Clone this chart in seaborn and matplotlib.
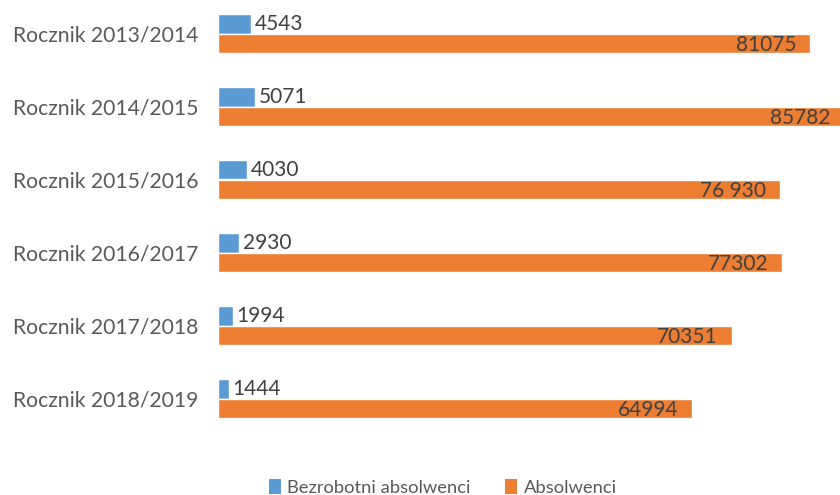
import matplotlib
matplotlib.use("Agg")
import matplotlib.pyplot as plt
import seaborn as sns
import pandas as pd
from matplotlib.patches import Patch

categories = ["Rocznik 2013/2014", "Rocznik 2014/2015", "Rocznik 2015/2016",
              "Rocznik 2016/2017", "Rocznik 2017/2018", "Rocznik 2018/2019"]
bezrobotni = [4543, 5071, 4030, 2930, 1994, 1444]
absolwenci = [81075, 85782, 76930, 77302, 70351, 64994]
bezrobotni_labels = ["4543", "5071", "4030", "2930", "1994", "1444"]
absolwenci_labels = ["81075", "85782", "76 930", "77302", "70351", "64994"]
series_names = ["Bezrobotni absolwenci", "Absolwenci"]
colors = ["#5B9BD5", "#ED7D31"]

df = pd.DataFrame({
    "cat": categories * 2,
    "val": bezrobotni + absolwenci,
    "series": [series_names[0]] * len(categories) + [series_names[1]] * len(categories),
})

sns.set_style("white")
plt.rcParams["font.family"] = ["Lato", "DejaVu Sans"]

fig = plt.figure(figsize=(8.4, 4.95), dpi=100)
ax = fig.add_axes([218 / 840, 60 / 495, 1 - 218 / 840, 438 / 495])

sns.barplot(data=df, y="cat", x="val", hue="series", orient="h",
            palette=colors, width=0.54, dodge=True, ax=ax, saturation=1,
            legend=False)

ax.set_xlim(0, 85200)
ax.set_ylim(5.5, -0.5)
for s in ax.spines.values():
    s.set_visible(False)
ax.set_xticks([])
ax.set_xlabel("")
ax.set_ylabel("")
ax.tick_params(axis="y", length=0, pad=14, labelsize=15.2, labelcolor="#595959")

label_color = "#404040"
off = 0.135
for i in range(len(categories)):
    ax.text(bezrobotni[i] + 450, i - off, bezrobotni_labels[i], ha="left",
            va="center", fontsize=15, color=label_color)
    ax.text(absolwenci[i] - 1900, i + off + 0.02, absolwenci_labels[i], ha="right",
            va="center", fontsize=15, color=label_color, clip_on=False)

handles = [Patch(facecolor=c, edgecolor="none") for c in colors]
fig.legend(handles, series_names, loc="lower center", ncol=2, frameon=False,
           bbox_to_anchor=(0.527, -0.035), fontsize=13.2, handlelength=0.65,
           handleheight=0.9, handletextpad=0.35, columnspacing=1.9,
           labelcolor="#595959")

fig.savefig("out.png", dpi=100)
